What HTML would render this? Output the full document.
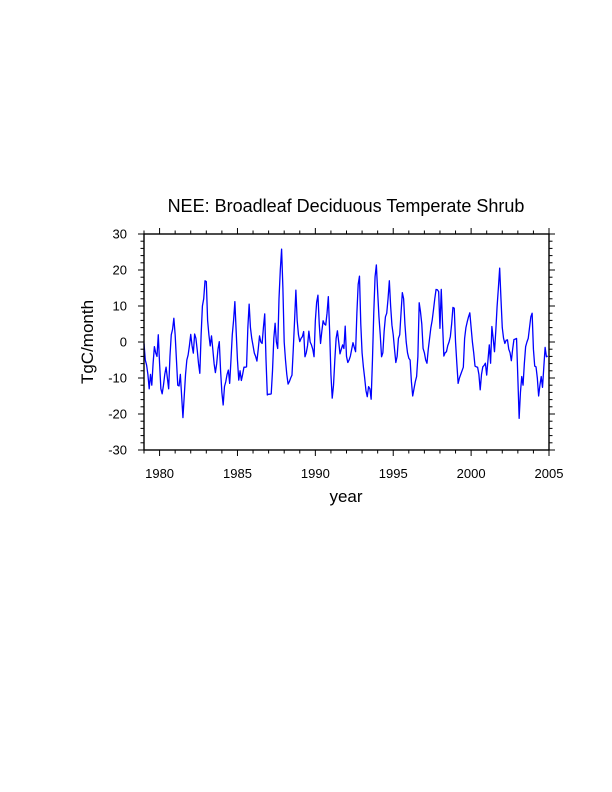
<!DOCTYPE html>
<html><head><meta charset="utf-8"><style>
html,body{margin:0;padding:0;background:#fff;}
svg{display:block;font-family:"Liberation Sans",Arial,sans-serif;}
</style></head><body>
<svg id="chart" width="612" height="792" viewBox="0 0 612 792" xmlns="http://www.w3.org/2000/svg">
<text x="346" y="212" font-size="18" text-anchor="middle">NEE: Broadleaf Deciduous Temperate Shrub</text>
<text transform="translate(93,342) rotate(-90)" font-size="17" text-anchor="middle">TgC/month</text>
<text x="346" y="502" font-size="17" text-anchor="middle">year</text>
<g id="ticks"></g>
<path id="series" fill="none" stroke="#0000ff" stroke-width="1.3" stroke-linejoin="round"/>
<rect x="144" y="234" width="405" height="216" fill="none" stroke="#000" stroke-width="1.4"/>
</svg>
<script>
const startYear = 1979;
const endYear = 2005;
const yTicks = [-30,-20,-10,0,10,20,30];
const xTickLabels = [1980,1985,1990,1995,2000,2005];
const nee = [
-0.4,-5,-6.4,-9,-13,-9,-12,-6,-1.3,-3,-4,2,
-6,-13,-14.4,-12,-9,-7,-10,-13,-4,2,3.5,6.6,
2,-5,-12,-12.2,-9,-15,-21,-15,-9,-5,-3.6,-1,
2.1,-1,-3.1,2.2,1,-2.2,-6,-8.7,2,10,12,17,
16.8,6,2,-1.1,1.7,-2,-6,-8.5,-6,-2,0.1,-8,
-14,-17.5,-12.4,-11,-9,-7.8,-11.5,-5,2,6,11.2,3,
-5,-10.6,-8,-10.7,-9,-7,-7,-6.9,4,10.5,4,1,
-1,-3.1,-4,-5.3,-2,1.7,0,-0.4,4,7.8,-5,-14.7,
-14.5,-14.5,-14.4,-8,1,5.2,0,-1.8,12,20,25.8,15,
0,-5,-9,-11.7,-11,-10,-9.2,-2,6,14.4,6,2,
0.1,1,1.5,2.9,-4.1,-3,-1,3,0,-0.8,-2,-4.1,
6,11,13,5,-0.4,3,5.9,5,4.7,8,12.6,3,
-9,-15.6,-12,-5,1,3.1,0,-3.3,-2,-0.8,-1.8,4.4,
-4,-5.7,-5,-3.9,-2,-0.2,-1.5,-2.7,8,16,18.3,5,
-3,-6.9,-10,-13.5,-15.2,-12.4,-13,-15.9,-5,8,18.1,21.4,
14,7,2,-4.1,-3,3,7,8,12,17,10,4.7,
2,-2,-5.7,-4,1,2,8,13.7,12,5,0,-3,
-4.5,-5,-11,-15,-13,-11,-9.6,-4,10.9,8.4,5,-1.8,
-3,-5,-5.9,-2,1,4,6,8.9,12,14.6,14.5,14,
3.8,14.6,5,-3.9,-3,-2.7,-1,0,1.5,5,9.6,9.4,
0,-6,-11.5,-10,-9,-8,-7,1,4,5.6,7,8.1,
4,0,-3,-6.7,-6.9,-7,-9,-13.3,-9,-6.9,-6.5,-5.9,
-9.2,-5,-0.8,-5.9,4.3,1,-2.7,3,9.8,15,20.5,12,
4,1,-0.4,0.5,0.6,-2,-3,-5.2,-2,0.7,0.8,1,
-10,-21.2,-14,-9.6,-12,-6,-1.3,0,1,4,7,8,
-2,-6.7,-6.9,-10,-15,-12,-9.6,-12.6,-7,-1.5,-4.1,-3.9];

const L=144,R=549,T=234,B=450,yMin=-30,yMax=30;
function xs(t){return L+(t-startYear)/(endYear-startYear)*(R-L);}
function ys(v){return B-(v-yMin)/(yMax-yMin)*(B-T);}
const NS="http://www.w3.org/2000/svg";
const g=document.getElementById('ticks');
function line(x1,y1,x2,y2,name){
  const l=document.createElementNS(NS,'line');
  l.setAttribute('x1',x1);l.setAttribute('y1',y1);l.setAttribute('x2',x2);l.setAttribute('y2',y2);
  l.setAttribute('stroke','#000');l.setAttribute('stroke-width','1');
  
  
  g.appendChild(l);
}
function text(x,y,s,anchor,name){
  const t=document.createElementNS(NS,'text');
  t.setAttribute('x',x);t.setAttribute('y',y);t.setAttribute('font-size','13');t.setAttribute('text-anchor',anchor);
  t.textContent=s;
  
  
  g.appendChild(t);
}
for(let yr=startYear;yr<=endYear;yr++){
  const x=xs(yr);const major=(yr%5===0);const len=major?6:3.5;
  line(x,B,x,B+len,'x-tick');line(x,T,x,T-len,'x-tick-top');
}
xTickLabels.forEach(yr=>text(xs(yr),478,String(yr),'middle','x-tick-label'));
for(let v=yMin;v<=yMax;v+=2){
  const y=ys(v);const major=(v%10===0);const len=major?6:3.5;
  line(L,y,L-len,y,'y-tick');line(R,y,R+len,y,'y-tick-right');
}
yTicks.forEach(v=>text(127,ys(v)+4.5,String(v),'end','y-tick-label'));
let d='';
nee.forEach((v,i)=>{const t=startYear+i/12;d+=(i?'L':'M')+xs(t).toFixed(2)+' '+ys(v).toFixed(2);});
document.getElementById('series').setAttribute('d',d);
</script>
</body></html>
